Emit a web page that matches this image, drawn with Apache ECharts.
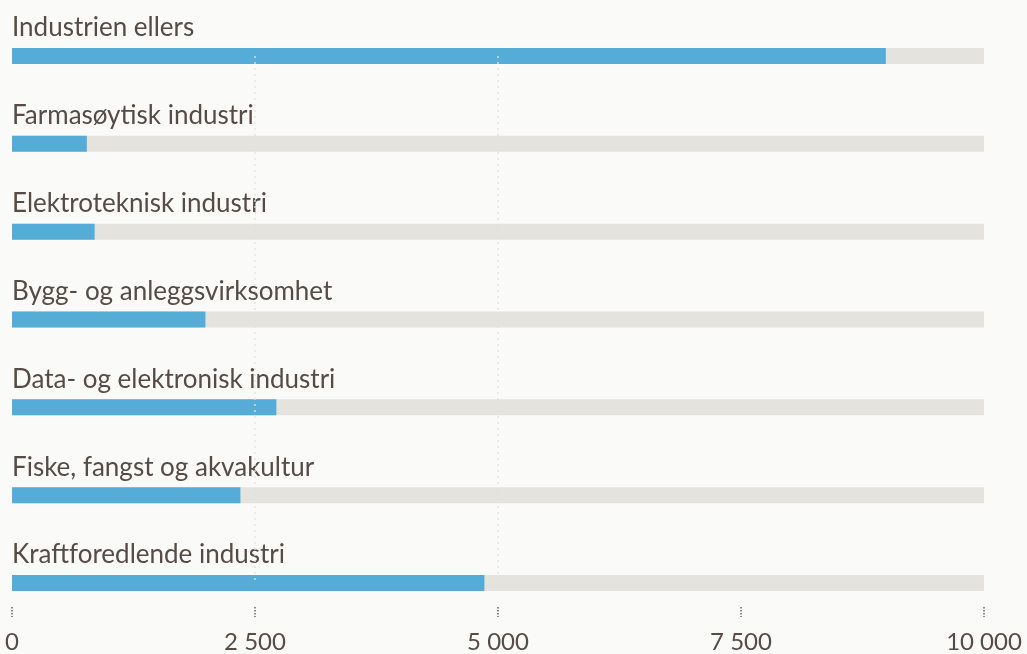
<!DOCTYPE html>
<html>
<head>
<meta charset="utf-8">
<script src="https://cdn.jsdelivr.net/npm/echarts@6/dist/echarts.min.js"></script>
<style>
  html, body { margin: 0; padding: 0; background: #fafaf8; }
  #chart { width: 1027px; height: 654px; }
</style>
</head>
<body>
<div id="chart"></div>
<script>
var categories = ['Industrien ellers', 'Farmasøytisk industri', 'Elektroteknisk industri',
  'Bygg- og anleggsvirksomhet', 'Data- og elektronisk industri', 'Fiske, fangst og akvakultur',
  'Kraftforedlende industri'];
var values = [8990, 770, 850, 1990, 2720, 2350, 4860];
var maxValue = 10000;

var textColor = '#574b45';
var fontFamily = 'Lato, "Open Sans", sans-serif';
var gridColor = 'rgba(225,225,222,0.9)';
var none = 'rgba(0,0,0,0)';

var myChart = echarts.init(document.getElementById('chart'));
var option = {
  backgroundColor: '#fafaf8',
  animation: false,
  grid: { left: 12, right: 43, top: 56, bottom: 67.5 },
  xAxis: {
    type: 'value',
    min: 0,
    max: maxValue,
    interval: 2500,
    offset: 24,
    z: 10,
    axisLine: { show: false },
    axisTick: {
      show: true,
      length: 10,
      lineStyle: { color: '#666', type: 'dotted', width: 1.5 }
    },
    axisLabel: {
      margin: 23,
      color: textColor,
      fontSize: 24,
      fontFamily: fontFamily,
      formatter: function (v) {
        return String(v).replace(/\B(?=(\d{3})+(?!\d))/g, ' ');
      }
    },
    splitLine: {
      show: true,
      // only the 2 500 and 5 000 lines are visible
      lineStyle: { color: [none, gridColor, gridColor, none, none], type: [2, 4], width: 1.5 }
    }
  },
  yAxis: {
    type: 'category',
    data: categories,
    inverse: true,
    boundaryGap: false,
    axisLine: { show: false },
    axisTick: { show: false },
    axisLabel: { show: false },
    splitLine: { show: false }
  },
  series: [
    {
      type: 'bar',
      data: categories.map(function () { return maxValue; }),
      barWidth: 16,
      barGap: '-100%',
      clip: false,
      silent: true,
      itemStyle: { color: '#e4e3dd' },
      label: {
        show: true,
        position: [0, -7],
        verticalAlign: 'bottom',
        align: 'left',
        formatter: '{b}',
        color: textColor,
        fontSize: 26,
        fontFamily: fontFamily
      }
    },
    {
      type: 'bar',
      data: values,
      barWidth: 16,
      clip: false,
      itemStyle: { color: '#55acd7' }
    }
  ]
};
myChart.setOption(option);
window.addEventListener('resize', function () { myChart.resize(); });
</script>
</body>
</html>
